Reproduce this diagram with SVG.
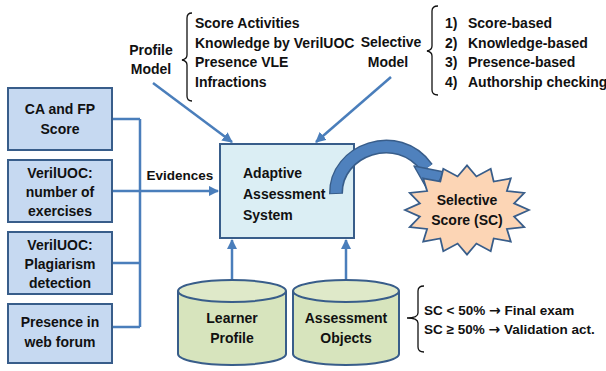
<svg xmlns="http://www.w3.org/2000/svg" width="606" height="371" viewBox="0 0 606 371">
<defs>
<style>
text{font-family:"Liberation Sans",Arial,sans-serif;font-weight:bold;font-size:14px;fill:#111}
.c{text-anchor:middle}
.ar{font-family:"DejaVu Sans",sans-serif;font-size:14px}
.box{fill:#c6d9f1;stroke:#385d8a;stroke-width:2}
.main{fill:#dbeef4;stroke:#385d8a;stroke-width:2}
.cyl{fill:#d7e4bd;stroke:#385d8a;stroke-width:2}
.cyltop{fill:#dfe9c9;stroke:#385d8a;stroke-width:2}
.star{fill:#fcd5b5;stroke:#385d8a;stroke-width:1.8}
.ln{fill:none;stroke:#4a7ebb;stroke-width:2.5}
.br{fill:none;stroke:#111;stroke-width:1.3}
</style>
<marker id="ah" viewBox="0 0 10 10" refX="9" refY="5" markerWidth="4.2" markerHeight="4.2" orient="auto" markerUnits="strokeWidth">
<path d="M0,0 L10,5 L0,10 z" fill="#4a7ebb"/>
</marker>
</defs>
<rect width="606" height="371" fill="#fff"/>

<g id="connectors">
<path class="ln" d="M112,119 H140 M112,263 H140 M112,327 H140 M140,119 V327"/>
<path class="ln" d="M112,191 H218" marker-end="url(#ah)"/>
<path class="ln" d="M153,83 L232,142" marker-end="url(#ah)"/>
<path class="ln" d="M391,77 L316,142" marker-end="url(#ah)"/>
<path class="ln" d="M232,280 V240" marker-end="url(#ah)"/>
<path class="ln" d="M346,280 V240" marker-end="url(#ah)"/>
<text x="180" y="180" class="c" style="font-size:13.5px">Evidences</text>
</g>

<g id="profile-model">
<text x="151" y="55" class="c">Profile</text>
<text x="151" y="74" class="c">Model</text>
<path class="br" d="M192,13 Q187,13 187,18 V55 Q187,59 182,60 Q187,61 187,65 V96 Q187,101 192,101"/>
<text x="195" y="28">Score Activities</text>
<text x="195" y="47.5">Knowledge by VerilUOC</text>
<text x="195" y="67">Presence VLE</text>
<text x="195" y="86.5">Infractions</text>
</g>

<g id="selective-model">
<text x="391" y="47" class="c">Selective</text>
<text x="388" y="67" class="c">Model</text>
<path class="br" d="M438,6 Q432,6 432,11 V46 Q432,50 427,51 Q432,52 432,56 V90 Q432,95 438,95"/>
<text x="445" y="28">1)</text>
<text x="468" y="28">Score-based</text>
<text x="445" y="47.5">2)</text>
<text x="468" y="47.5">Knowledge-based</text>
<text x="445" y="67">3)</text>
<text x="468" y="67">Presence-based</text>
<text x="445" y="86.5">4)</text>
<text x="468" y="86.5">Authorship checking</text>
</g>

<g id="ca-fp-score">
<rect class="box" x="8" y="88" width="104" height="62"/>
<text x="60" y="114" class="c">CA and FP</text>
<text x="60" y="134" class="c">Score</text>
</g>
<g id="veriluoc-exercises">
<rect class="box" x="8" y="160" width="104" height="62"/>
<text x="60" y="178" class="c">VerilUOC:</text>
<text x="60" y="197" class="c">number of</text>
<text x="60" y="216" class="c">exercises</text>
</g>
<g id="veriluoc-plagiarism">
<rect class="box" x="8" y="232" width="104" height="62"/>
<text x="60" y="250" class="c">VerilUOC:</text>
<text x="60" y="269" class="c">Plagiarism</text>
<text x="60" y="288" class="c">detection</text>
</g>
<g id="presence-forum">
<rect class="box" x="8" y="304" width="104" height="59"/>
<text x="60" y="327" class="c">Presence in</text>
<text x="60" y="347" class="c">web forum</text>
</g>

<g id="adaptive-system">
<rect class="main" x="220" y="144" width="134" height="94"/>
<text x="243" y="178">Adaptive</text>
<text x="243" y="199">Assessment</text>
<text x="243" y="220">System</text>
</g>

<g id="curved-arrow">
<path d="M336,194 C335,150 398,127 427,168" fill="none" stroke="#385d8a" stroke-width="14"/>
<path d="M336,193 C335,150 398,127 427,168" fill="none" stroke="#4f81bd" stroke-width="11"/>
<path d="M414,166 L444,172 L431,196 Z" fill="#4f81bd" stroke="#385d8a" stroke-width="1.5" stroke-linejoin="round"/>
</g>

<g id="selective-score">
<path class="star" transform="translate(467,210) scale(1,0.95) translate(-467,-212)" d="M529,212 L514.1,219 L524.3,230 L506.9,232 L510.8,245.2 L493.7,241.9 L490.7,255.4 L476.4,247.3 L467,259 L457.6,247.3 L443.3,255.4 L440.3,241.9 L423.2,245.2 L427.1,232 L409.7,230 L419.9,219 L405,212 L419.9,205 L409.7,194 L427.1,192 L423.2,178.8 L440.3,182.1 L443.3,168.6 L457.6,176.7 L467,165 L476.4,176.7 L490.7,168.6 L493.7,182.1 L510.8,178.8 L506.9,192 L524.3,194 L514.1,205 Z"/>
<text x="467" y="205" class="c">Selective</text>
<text x="467" y="225" class="c">Score (SC)</text>
</g>

<g id="learner-profile">
<path class="cyl" d="M178,291 V354 A54,11 0 0 0 286,354 V291"/>
<ellipse class="cyltop" cx="232" cy="291" rx="54" ry="11"/>
<text x="232" y="323" class="c">Learner</text>
<text x="232" y="343" class="c">Profile</text>
</g>

<g id="assessment-objects">
<path class="cyl" d="M293,291 V354 A53,11 0 0 0 399,354 V291"/>
<ellipse class="cyltop" cx="346" cy="291" rx="53" ry="11"/>
<text x="346" y="323" class="c">Assessment</text>
<text x="346" y="343" class="c">Objects</text>
</g>

<g id="sc-rules">
<path class="br" d="M424,286 Q418,286 418,291 V313 Q418,318 407,318 Q418,318 418,323 V347 Q418,352 424,352"/>
<text x="424" y="315" style="font-size:13.5px">SC &lt; 50% <tspan class="ar">→</tspan> Final exam</text>
<text x="424" y="334" style="font-size:13.5px">SC ≥ 50% <tspan class="ar">→</tspan> Validation act.</text>
</g>
</svg>
